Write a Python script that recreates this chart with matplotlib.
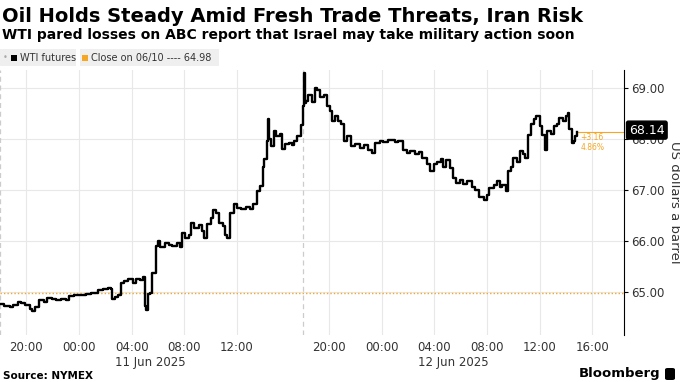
import matplotlib
matplotlib.use("Agg")
import matplotlib.pyplot as plt
import matplotlib.patches as mpatches
import matplotlib.transforms as mtransforms
import pandas as pd

# WTI futures, sampled off the chart (trading clock, ET)
times = [
    "06-10 18:00", "06-10 18:20", "06-10 18:45", "06-10 19:00", "06-10 19:20", "06-10 19:35",
    "06-10 19:55", "06-10 20:15", "06-10 20:25", "06-10 20:40", "06-10 21:00", "06-10 21:20",
    "06-10 21:35", "06-10 21:55", "06-10 22:15", "06-10 22:40", "06-10 23:00", "06-10 23:15",
    "06-10 23:35", "06-11 00:00", "06-11 00:30", "06-11 00:55", "06-11 01:25", "06-11 01:50",
    "06-11 02:10", "06-11 02:25", "06-11 02:30", "06-11 02:45", "06-11 03:00", "06-11 03:10",
    "06-11 03:25", "06-11 03:45", "06-11 04:05", "06-11 04:20", "06-11 04:40", "06-11 04:50",
    "06-11 05:00", "06-11 05:05", "06-11 05:15", "06-11 05:25", "06-11 05:35", "06-11 05:50",
    "06-11 06:00", "06-11 06:10", "06-11 06:30", "06-11 06:50", "06-11 07:05", "06-11 07:25",
    "06-11 07:40", "06-11 07:50", "06-11 08:05", "06-11 08:20", "06-11 08:30", "06-11 08:45",
    "06-11 09:05", "06-11 09:20", "06-11 09:30", "06-11 09:45", "06-11 10:00", "06-11 10:10",
    "06-11 10:25", "06-11 10:40", "06-11 10:55", "06-11 11:05", "06-11 11:15", "06-11 11:30",
    "06-11 11:45", "06-11 12:00", "06-11 12:20", "06-11 12:40", "06-11 13:00", "06-11 13:15",
    "06-11 13:30", "06-11 13:45", "06-11 14:00", "06-11 14:05", "06-11 14:15", "06-11 14:20",
    "06-11 14:25", "06-11 14:35", "06-11 14:50", "06-11 15:00", "06-11 15:15", "06-11 15:25",
    "06-11 15:40", "06-11 15:55", "06-11 16:10", "06-11 16:20", "06-11 16:35", "06-11 16:50",
    "06-11 18:00", "06-11 18:05", "06-11 18:10", "06-11 18:15", "06-11 18:25", "06-11 18:40",
    "06-11 18:55", "06-11 19:05", "06-11 19:20", "06-11 19:35", "06-11 19:50", "06-11 20:05",
    "06-11 20:15", "06-11 20:25", "06-11 20:40", "06-11 20:55", "06-11 21:10", "06-11 21:20",
    "06-11 21:40", "06-11 22:00", "06-11 22:20", "06-11 22:40", "06-11 22:55", "06-11 23:15",
    "06-11 23:30", "06-11 23:50", "06-12 00:05", "06-12 00:30", "06-12 01:00", "06-12 01:15",
    "06-12 01:35", "06-12 01:55", "06-12 02:10", "06-12 02:30", "06-12 02:50", "06-12 03:05",
    "06-12 03:25", "06-12 03:40", "06-12 04:00", "06-12 04:10", "06-12 04:30", "06-12 04:40",
    "06-12 04:55", "06-12 05:10", "06-12 05:25", "06-12 05:40", "06-12 05:55", "06-12 06:10",
    "06-12 06:30", "06-12 06:50", "06-12 07:05", "06-12 07:25", "06-12 07:45", "06-12 08:00",
    "06-12 08:10", "06-12 08:30", "06-12 08:45", "06-12 09:00", "06-12 09:10", "06-12 09:25",
    "06-12 09:35", "06-12 09:50", "06-12 10:00", "06-12 10:15", "06-12 10:30", "06-12 10:45",
    "06-12 10:55", "06-12 11:05", "06-12 11:20", "06-12 11:35", "06-12 11:45", "06-12 12:00",
    "06-12 12:10", "06-12 12:25", "06-12 12:35", "06-12 12:50", "06-12 13:05", "06-12 13:20",
    "06-12 13:30", "06-12 13:45", "06-12 14:00", "06-12 14:10", "06-12 14:15", "06-12 14:25",
    "06-12 14:35", "06-12 14:40", "06-12 14:50",
]
wti = [
    64.75, 64.72, 64.70, 64.74, 64.79, 64.77,
    64.74, 64.66, 64.63, 64.70, 64.83, 64.80,
    64.88, 64.86, 64.83, 64.86, 64.84, 64.92,
    64.94, 64.93, 64.96, 64.98, 65.03, 65.05,
    65.08, 65.06, 64.85, 64.90, 64.93, 65.17,
    65.20, 65.25, 65.18, 65.24, 65.22, 65.28,
    64.72, 64.65, 64.95, 64.98, 65.37, 65.90,
    66.00, 65.88, 65.95, 65.92, 65.90, 65.95,
    65.88, 66.15, 66.05, 66.12, 66.35, 66.25,
    66.30, 66.20, 66.05, 66.32, 66.45, 66.60,
    66.55, 66.35, 66.28, 66.12, 66.05, 66.55,
    66.72, 66.65, 66.62, 66.66, 66.62, 66.72,
    66.98, 67.08, 67.45, 67.60, 67.95, 68.38,
    68.00, 67.85, 68.15, 68.05, 68.10, 67.80,
    67.90, 67.92, 67.88, 67.95, 68.05, 68.28,
    68.65, 69.30, 68.70, 68.75, 68.85, 68.72,
    69.00, 68.95, 68.82, 68.85, 68.65, 68.55,
    68.35, 68.45, 68.35, 68.30, 67.95, 68.05,
    67.85, 67.90, 67.82, 67.88, 67.78, 67.72,
    67.92, 67.95, 67.94, 67.97, 67.94, 67.96,
    67.78, 67.72, 67.76, 67.70, 67.74, 67.62,
    67.50, 67.37, 67.50, 67.55, 67.60, 67.45,
    67.58, 67.43, 67.23, 67.13, 67.20, 67.12,
    67.18, 67.05, 67.00, 66.85, 66.80, 66.90,
    67.04, 67.10, 67.17, 67.05, 67.10, 66.98,
    67.37, 67.45, 67.62, 67.55, 67.76, 67.70,
    67.62, 68.08, 68.30, 68.38, 68.45, 68.25,
    68.08, 67.78, 68.15, 68.10, 68.25, 68.30,
    68.40, 68.35, 68.45, 68.50, 68.20, 67.92,
    67.95, 68.05, 68.14,
]
prev_close = 64.98
change = "+3.16"
change_pct = "4.86%"

tick_times = ["06-10 20:00", "06-11 00:00", "06-11 04:00", "06-11 08:00", "06-11 12:00",
              "06-11 20:00", "06-12 00:00", "06-12 04:00", "06-12 08:00", "06-12 12:00",
              "06-12 16:00"]
tick_labels = ["20:00", "00:00", "04:00", "08:00", "12:00",
               "20:00", "00:00", "04:00", "08:00", "12:00", "16:00"]
date_labels = {"06-11 04:00": "11 Jun 2025", "06-12 04:00": "12 Jun 2025"}
yticks = [65, 66, 67, 68, 69]

ORANGE = "#f5a623"
GRID = "#e8e8e8"
TXT = "#333333"

start = pd.Timestamp("2025-06-10 18:00")
session2 = pd.Timestamp("2025-06-11 18:00")


def to_pos(s):
    # hours on a trading clock, the 17:00-18:00 break squeezed out
    ts = pd.Timestamp("2025-" + s)
    h = (ts - start).total_seconds() / 3600
    return h - 1 if ts >= session2 else h


x = [to_pos(t) for t in times]
xt = [to_pos(t) for t in tick_times]

plt.rcParams["font.family"] = "DejaVu Sans"
fig = plt.figure(figsize=(6.8, 3.82), dpi=100)
ax = fig.add_axes([0, 47 / 382, 624 / 680, 265 / 382])

ax.set_xlim(0, 47.4)
ax.set_ylim(64.15, 69.35)

for v in xt:
    ax.axvline(v, color=GRID, lw=0.8, zorder=0)
for v in yticks:
    ax.axhline(v, color=GRID, lw=0.8, zorder=0)
for v in [0, to_pos("06-11 18:00")]:
    ax.axvline(v, color="#cccccc", lw=0.9, ls=(0, (4, 3)), zorder=0)

ax.axhline(prev_close, color=ORANGE, lw=1.0, ls=(0, (1, 1.5)), zorder=1)
ax.plot(x, wti, color="black", lw=1.7, drawstyle="steps-post", zorder=3)

# last value marker line + label
last = wti[-1]
ax.plot([x[-1], 47.4], [last, last], color=ORANGE, lw=0.8, zorder=2, clip_on=False)
ax.text(x[-1] + 0.25, last - 0.02, change, color=ORANGE, fontsize=5.5, va="top", ha="left")
ax.text(x[-1] + 0.25, last - 0.22, change_pct, color=ORANGE, fontsize=5.5, va="top", ha="left")
trans = mtransforms.blended_transform_factory(ax.transAxes, ax.transData)
ax.text(1.008, last + 0.03, f"{last:.2f}", transform=trans, color="white", fontsize=9,
        va="center", ha="left", zorder=5,
        bbox=dict(boxstyle="round,pad=0.2,rounding_size=0.15", fc="black", ec="black"))

for s in ["top", "left", "bottom"]:
    ax.spines[s].set_visible(False)
ax.spines["right"].set_color("black")
ax.spines["right"].set_linewidth(0.8)

ax.yaxis.tick_right()
ax.set_yticks(yticks)
ax.set_yticklabels([f"{v:.2f}" for v in yticks])
ax.tick_params(axis="y", length=3, width=0.8, color="black", labelsize=8.5,
               labelcolor=TXT, pad=2)
ax.yaxis.set_label_position("right")
ax.set_ylabel("US dollars a barrel", rotation=270, fontsize=9.5, color=TXT, labelpad=12)

ax.set_xticks(xt)
ax.set_xticklabels(tick_labels)
ax.tick_params(axis="x", length=0, labelsize=8.5, labelcolor=TXT, pad=4)
for s, lab in date_labels.items():
    ax.annotate(lab, xy=(to_pos(s), 0), xycoords=("data", "axes fraction"),
                xytext=(-12, -15), textcoords="offset points", ha="left", va="top",
                fontsize=8.5, color=TXT)

# title block
fig.text(0.003, 1 - 16 / 382, "Oil Holds Steady Amid Fresh Trade Threats, Iran Risk",
         fontsize=14, fontweight="bold", va="center", ha="left", color="black")
fig.text(0.003, 1 - 35 / 382,
         "WTI pared losses on ABC report that Israel may take military action soon",
         fontsize=10, fontweight="bold", va="center", ha="left", color="black")

# legend strip
ly = 1 - 66 / 382
lh = 17 / 382
fig.patches.append(mpatches.Rectangle((0, ly), 76 / 680, lh, transform=fig.transFigure,
                                      fc="#efefef", ec="none"))
fig.patches.append(mpatches.Rectangle((80 / 680, ly), 139 / 680, lh, transform=fig.transFigure,
                                      fc="#efefef", ec="none"))
fig.patches.append(mpatches.Rectangle((11 / 680, 1 - 61 / 382), 6 / 680, 6 / 382,
                                      transform=fig.transFigure, fc="black", ec="none"))
fig.patches.append(mpatches.Rectangle((82 / 680, 1 - 61 / 382), 6 / 680, 6 / 382,
                                      transform=fig.transFigure, fc=ORANGE, ec="none"))
fig.text(3 / 680, 1 - 58 / 382, "\u2022", fontsize=6, color="#aaaaaa", va="center")
fig.text(20 / 680, 1 - 58 / 382, "WTI futures", fontsize=7, color=TXT, va="center")
fig.text(91 / 680, 1 - 58 / 382, f"Close on 06/10 ---- {prev_close:.2f}", fontsize=7,
         color=TXT, va="center")

# footer
fig.text(3 / 680, 1 - 376 / 382, "Source: NYMEX", fontsize=7.5, fontweight="bold",
         va="center", ha="left", color="black")
fig.text(660 / 680, 1 - 374 / 382, "Bloomberg", fontsize=9.5, fontweight="bold",
         va="center", ha="right", color="black")
fig.patches.append(mpatches.FancyBboxPatch((665 / 680, 1 - 380 / 382), 10 / 680, 12 / 382,
                                           boxstyle="round,pad=0,rounding_size=0.004",
                                           transform=fig.transFigure, fc="black", ec="none"))

fig.savefig("out.png", dpi=100)
